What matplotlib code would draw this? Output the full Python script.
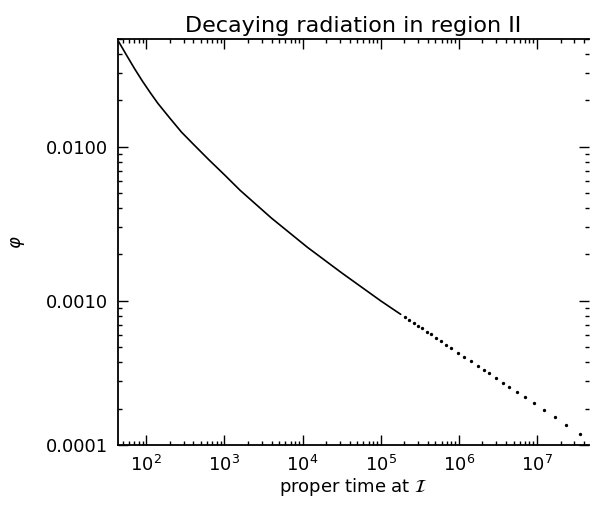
import matplotlib
matplotlib.use("Agg")
import matplotlib.pyplot as plt
from matplotlib.ticker import FixedLocator, FixedFormatter, LogLocator, NullFormatter

# solid part of the decay curve: proper time at scri vs field amplitude
t_solid = [44.3, 56.2, 70.8, 89.1, 112, 141, 200, 282, 398, 631, 1000,
           1585, 3981, 11480, 31620, 1.0e5, 1.58e5, 1.80e5]
phi_solid = [0.0481, 0.0391, 0.0321, 0.0267, 0.0225, 0.0191, 0.01535,
             0.01245, 0.01042, 0.00824, 0.00658, 0.00522, 0.00345,
             0.00223, 0.00152, 0.00100, 0.000855, 0.000818]

# late-time samples, drawn as individual dots
t_dots = [2.03e5, 2.29e5, 2.65e5, 2.99e5, 3.36e5, 3.90e5, 4.39e5, 5.09e5,
          5.90e5, 6.84e5, 7.94e5, 9.77e5, 1.17e6, 1.44e6, 1.77e6, 2.11e6,
          2.45e6, 3.01e6, 3.71e6, 4.43e6, 5.61e6, 7.11e6, 9.02e6, 1.21e7,
          1.68e7, 2.33e7, 3.52e7]
phi_dots = [7.86e-4, 7.55e-4, 7.18e-4, 6.90e-4, 6.62e-4, 6.30e-4, 6.05e-4,
            5.75e-4, 5.47e-4, 5.20e-4, 4.95e-4, 4.61e-4, 4.35e-4, 4.05e-4,
            3.77e-4, 3.55e-4, 3.38e-4, 3.15e-4, 2.94e-4, 2.77e-4, 2.55e-4,
            2.36e-4, 2.17e-4, 1.96e-4, 1.76e-4, 1.57e-4, 1.37e-4]

x_range = (43.4, 4.6e7)
x_ticks = [1e2, 1e3, 1e4, 1e5, 1e6, 1e7]
y_range = (1.16e-4, 0.050)
y_ticks = [1.16e-4, 0.001, 0.01]
y_ticklabels = ["0.0001", "0.0010", "0.0100"]

fig = plt.figure(figsize=(5.9, 5.08), dpi=100)
ax = fig.add_axes([0.200, 0.124, 0.798, 0.799])

ax.plot(t_solid, phi_solid, color="black", lw=1.2, solid_capstyle="round",
        solid_joinstyle="round")
ax.plot(t_dots, phi_dots, ls="none", marker="o", ms=1.4, color="black")

ax.set_xscale("log")
ax.set_yscale("log")
ax.set_xlim(*x_range)
ax.set_ylim(*y_range)

ax.yaxis.set_major_locator(FixedLocator(y_ticks))
ax.yaxis.set_major_formatter(FixedFormatter(y_ticklabels))
ax.yaxis.set_minor_locator(LogLocator(base=10, subs=range(2, 10)))
ax.yaxis.set_minor_formatter(NullFormatter())
ax.xaxis.set_major_locator(FixedLocator(x_ticks))
ax.xaxis.set_minor_locator(LogLocator(base=10, subs=range(2, 10), numticks=12))
ax.xaxis.set_minor_formatter(NullFormatter())

ax.tick_params(which="both", direction="in", top=True, right=True,
               width=1.0, labelsize=13)
ax.tick_params(which="major", length=7, pad=7)
ax.tick_params(which="minor", length=3)

for side in ("left", "bottom", "top"):
    ax.spines[side].set_linewidth(1.3)
ax.spines["right"].set_visible(False)

ax.set_title("Decaying radiation in region II", fontsize=16, pad=5)
ax.set_xlabel(r"proper time at $\mathcal{I}$", fontsize=13, labelpad=1)
ax.set_ylabel(r"$\varphi$", fontsize=13, labelpad=14)

fig.savefig("out.png", dpi=100)
